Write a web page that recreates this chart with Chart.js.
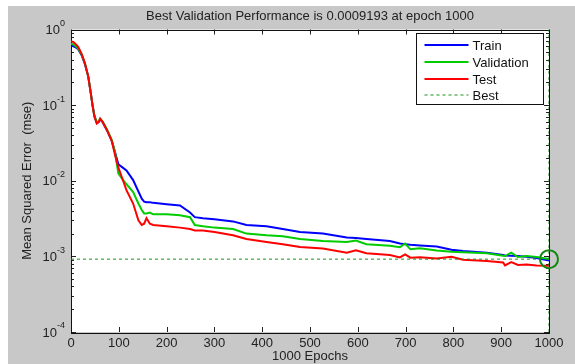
<!DOCTYPE html>
<html>
<head>
<meta charset="utf-8">
<title>Best Validation Performance</title>
<script src="https://cdn.jsdelivr.net/npm/chart.js@4.4.1/dist/chart.umd.min.js"></script>
<style>
  html, body { margin: 0; padding: 0; background: #fff; }
  #wrap { position: absolute; left: 8px; top: 6px; width: 567px; height: 358px; background: #c8c8c8; }
  canvas { display: block; }
</style>
</head>
<body>
<div id="wrap"><canvas id="perf" width="567" height="358"></canvas></div>
<script>
// epochs (irregular, denser where the curves bend)
const epochs = [0, 5, 10, 15, 22, 29, 36, 41, 45, 49, 54, 58, 61, 66, 75, 85, 92, 99, 109, 116,
  130, 141, 148, 153, 158, 165, 172, 200, 228, 249, 259, 276, 300, 339, 367, 409, 443, 479, 527, 577,
  596, 618, 667, 688, 699, 710, 730, 765, 796, 820, 870, 904, 908, 921, 935, 953, 974, 1000];

const trainMse = [0.62, 0.60, 0.58, 0.55, 0.46, 0.35, 0.24, 0.15, 0.10, 0.072, 0.058, 0.060, 0.065, 0.060, 0.047, 0.034, 0.024, 0.0165, 0.0148, 0.0137,
  0.0102, 0.0072, 0.0058, 0.0053, 0.0052, 0.0052, 0.0051, 0.0049, 0.0047, 0.0038, 0.0033, 0.0032, 0.0031, 0.0029, 0.0026, 0.0025, 0.0023, 0.0021, 0.0020, 0.00178,
  0.00175, 0.00170, 0.00160, 0.00148, 0.00145, 0.00142, 0.00139, 0.00135, 0.00122, 0.00118, 0.00112, 0.00104, 0.00103, 0.00102, 0.00101, 0.00099, 0.00095, 0.00088];

const validationMse = [0.65, 0.63, 0.60, 0.56, 0.47, 0.36, 0.24, 0.15, 0.10, 0.072, 0.059, 0.061, 0.066, 0.061, 0.048, 0.035, 0.024, 0.0125, 0.0102, 0.0090,
  0.0071, 0.0050, 0.0041, 0.0037, 0.0037, 0.0038, 0.0036, 0.0036, 0.0035, 0.0033, 0.0026, 0.0025, 0.0024, 0.0023, 0.0020, 0.0019, 0.00185, 0.0017, 0.0016, 0.00155,
  0.00162, 0.00145, 0.00138, 0.00132, 0.00148, 0.00124, 0.00128, 0.00120, 0.00115, 0.00113, 0.00110, 0.00102, 0.00101, 0.00112, 0.00098, 0.00101, 0.00098, 0.0009193];

const testMse = [0.70, 0.68, 0.64, 0.59, 0.48, 0.36, 0.24, 0.15, 0.10, 0.070, 0.057, 0.060, 0.066, 0.060, 0.047, 0.034, 0.022, 0.0150, 0.0100, 0.0075,
  0.0050, 0.0030, 0.0026, 0.0027, 0.0032, 0.0027, 0.0026, 0.0025, 0.0024, 0.0023, 0.0022, 0.0022, 0.0021, 0.0019, 0.0017, 0.00155, 0.00145, 0.00133, 0.00127, 0.00112,
  0.00120, 0.00110, 0.00104, 0.00097, 0.00106, 0.00096, 0.00097, 0.00094, 0.00099, 0.00090, 0.00087, 0.00083, 0.00076, 0.00084, 0.00077, 0.00078, 0.00076, 0.00075];

const bestEpoch = 1000;
const bestValue = 0.0009193;

const xTicks = [0, 100, 200, 300, 400, 500, 600, 700, 800, 900, 1000];
const yDecades = [1, 0.1, 0.01, 0.001, 0.0001];
const yExponents = ['0', '-1', '-2', '-3', '-4'];

const FONT = "'Liberation Sans', Arial, Helvetica, sans-serif";

function toPoints(values) {
  return epochs.map((e, i) => ({ x: e, y: values[i] }));
}

// matlab style frame, inward ticks, superscript labels, title and legend box
const matlabLook = {
  id: 'matlabLook',
  beforeDraw(chart) {
    const a = chart.chartArea;
    const ctx = chart.ctx;
    ctx.save();
    ctx.fillStyle = '#fff';
    ctx.fillRect(a.left, a.top, a.right - a.left, a.bottom - a.top);
    ctx.restore();
  },
  beforeDatasetsDraw(chart) {
    const a = chart.chartArea;
    const ctx = chart.ctx;
    const x = chart.scales.x;
    const y = chart.scales.y;
    ctx.save();

    // inward ticks on all four sides
    ctx.strokeStyle = '#222';
    ctx.lineWidth = 1;
    ctx.beginPath();
    xTicks.forEach(t => {
      const px = Math.round(x.getPixelForValue(t)) + 0.5;
      ctx.moveTo(px, a.bottom); ctx.lineTo(px, a.bottom - 5);
      ctx.moveTo(px, a.top); ctx.lineTo(px, a.top + 5);
    });
    for (let e = -4; e <= 0; e++) {
      for (let m = 1; m <= 9; m++) {
        const v = m * Math.pow(10, e);
        if (v > 1) break;
        const py = Math.round(y.getPixelForValue(v)) + 0.5;
        const len = m === 1 ? 5 : 3;
        ctx.moveTo(a.left, py); ctx.lineTo(a.left + len, py);
        ctx.moveTo(a.right, py); ctx.lineTo(a.right - len, py);
      }
    }
    ctx.stroke();

    // frame
    ctx.strokeStyle = '#111';
    ctx.strokeRect(Math.round(a.left) + 0.5, Math.round(a.top) + 0.5,
      Math.round(a.right - a.left), Math.round(a.bottom - a.top));
    ctx.restore();
  },
  afterDraw(chart) {
    const a = chart.chartArea;
    const ctx = chart.ctx;
    const y = chart.scales.y;
    ctx.save();

    // y tick labels 10^n
    ctx.fillStyle = '#222';
    ctx.textBaseline = 'middle';
    yDecades.forEach((v, i) => {
      const py = y.getPixelForValue(v);
      const right = a.left - 6;
      ctx.font = '9px ' + FONT;
      ctx.textAlign = 'right';
      const expW = ctx.measureText(yExponents[i]).width;
      ctx.fillText(yExponents[i], right, py - 6);
      ctx.font = '13px ' + FONT;
      ctx.fillText('10', right - expW, py + 1);
    });

    // title centred over the axes
    ctx.font = '13px ' + FONT;
    ctx.textAlign = 'center';
    ctx.fillStyle = '#222';
    ctx.fillText('Best Validation Performance is ' + bestValue + ' at epoch ' + bestEpoch,
      (a.left + a.right) / 2, 10);

    // legend
    const items = chart.data.datasets.filter(d => d.label);
    const bw = 127, bh = 71;
    const bx = Math.round(a.right - 6 - bw) + 0.5;
    const by = Math.round(a.top + 3.5) + 0.5;
    ctx.fillStyle = '#fff';
    ctx.fillRect(bx, by, bw, bh);
    ctx.strokeStyle = '#111';
    ctx.lineWidth = 1;
    ctx.strokeRect(bx, by, bw, bh);
    ctx.textAlign = 'left';
    items.forEach((d, i) => {
      const ly = Math.round(by + 11.5 + i * 16.8);
      ctx.save();
      ctx.strokeStyle = d.borderColor;
      ctx.lineWidth = d.borderWidth;
      ctx.setLineDash(d.borderDash || []);
      ctx.beginPath();
      ctx.moveTo(bx + 8, ly); ctx.lineTo(bx + 52, ly);
      ctx.stroke();
      ctx.restore();
      ctx.fillStyle = '#111';
      ctx.font = '13px ' + FONT;
      ctx.fillText(d.label, bx + 56, ly + 1);
    });

    ctx.restore();
  }
};

new Chart(document.getElementById('perf'), {
  type: 'line',
  data: {
    datasets: [
      { label: 'Train', data: toPoints(trainMse), borderColor: '#0000ff', borderWidth: 2, order: 4 },
      { label: 'Validation', data: toPoints(validationMse), borderColor: '#00cc00', borderWidth: 2, order: 3 },
      { label: 'Test', data: toPoints(testMse), borderColor: '#ff0000', borderWidth: 2, order: 2 },
      {
        label: 'Best',
        data: [{ x: 0, y: bestValue }, { x: bestEpoch, y: bestValue }, { x: bestEpoch, y: null },
          { x: bestEpoch, y: 0.0001 }, { x: bestEpoch, y: 1 }],
        borderColor: '#169316', borderWidth: 1, borderDash: [3, 3], spanGaps: false, order: 1
      },
      {
        data: [{ x: bestEpoch, y: bestValue }],
        showLine: false, pointRadius: 9, pointBorderWidth: 2, order: 0,
        pointBorderColor: '#118811', pointBackgroundColor: 'rgba(0,0,0,0)', clip: false
      }
    ]
  },
  options: {
    responsive: false,
    animation: false,
    elements: { line: { tension: 0, fill: false }, point: { radius: 0, hoverRadius: 0 } },
    layout: { padding: { left: 0, top: 23.5, right: 26, bottom: 0 } },
    plugins: { legend: { display: false }, title: { display: false }, tooltip: { enabled: false } },
    scales: {
      x: {
        type: 'linear', min: 0, max: 1000,
        grid: { display: false, drawTicks: false, tickLength: 0 }, border: { display: false },
        afterBuildTicks(scale) { scale.ticks = xTicks.map(v => ({ value: v })); },
        afterFit(scale) { scale.height = 32; },
        ticks: {
          color: '#222', font: { family: FONT, size: 13 }, padding: 4, maxRotation: 0,
          callback: v => String(v)
        },
        title: { display: true, text: '1000 Epochs', color: '#222', font: { family: FONT, size: 13 }, padding: { top: 0, bottom: 0 } }
      },
      y: {
        type: 'logarithmic', min: 0.0001, max: 1,
        grid: { display: false }, border: { display: false },
        afterFit(scale) { scale.width = 63; },
        ticks: { display: false },
        title: { display: true, text: 'Mean Squared Error  (mse)', color: '#222', font: { family: FONT, size: 13 }, padding: { top: 12, bottom: 0 } }
      }
    }
  },
  plugins: [matlabLook]
});
</script>
</body>
</html>
